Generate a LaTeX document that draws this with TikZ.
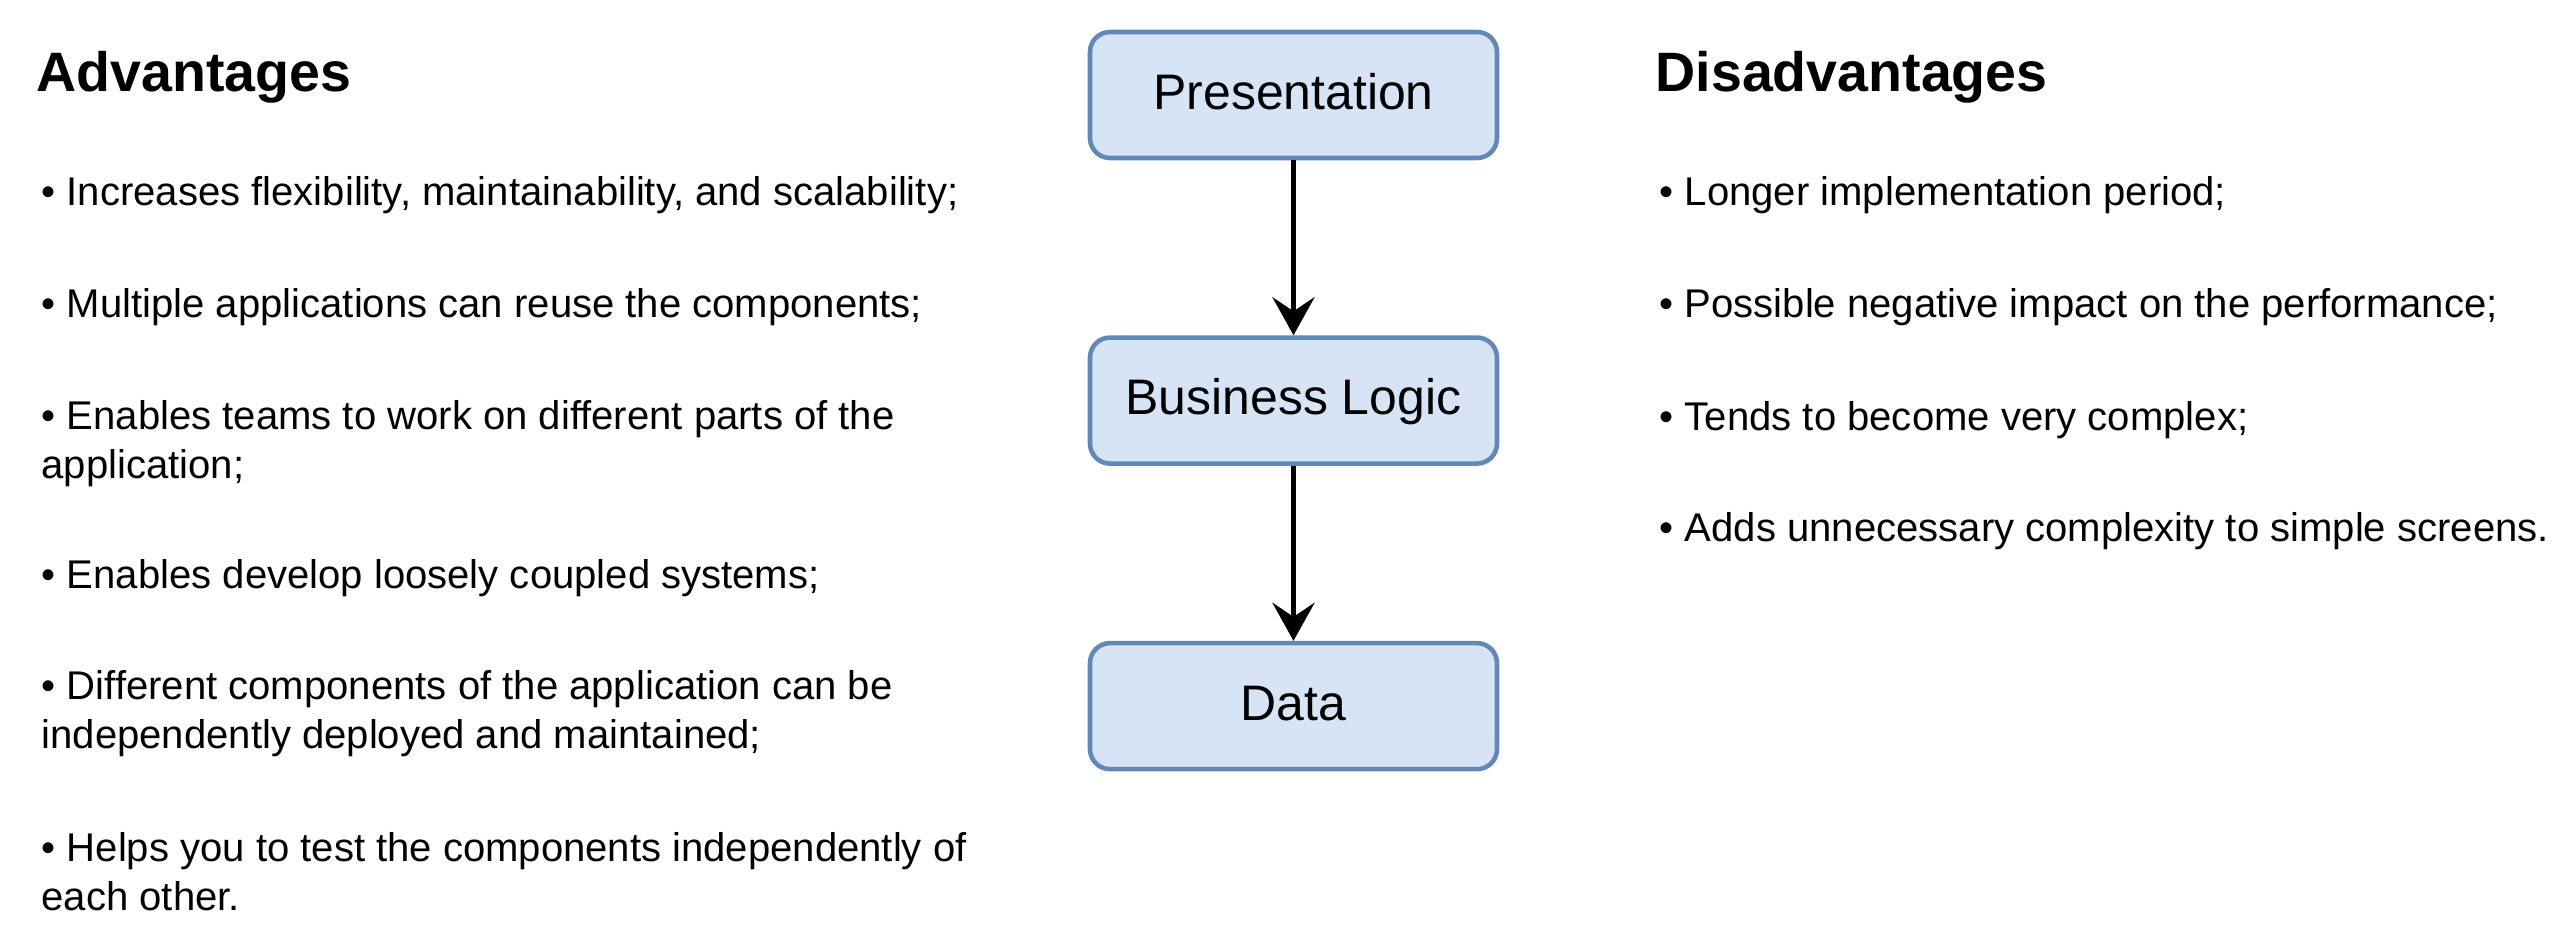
\documentclass[tikz,border=0pt]{standalone}
\usepackage{fontspec}
\setmainfont{Liberation Sans}
\usetikzlibrary{positioning,arrows.meta}
\definecolor{layerfill}{RGB}{214,228,246}
\definecolor{layerdraw}{RGB}{98,136,184}

\begin{document}
\begin{tikzpicture}[
    layer/.style={draw=layerdraw, fill=layerfill, line width=1.3pt, rounded corners=0.2cm,
      minimum width=4.07cm, minimum height=1.26cm, inner sep=0pt,
      font=\fontsize{14.2}{17}\selectfont, text height=0.38cm, text depth=0.10cm},
    head/.style={anchor=base west, inner sep=0pt, font=\fontsize{15.8}{19}\selectfont\bfseries},
    item/.style={anchor=base west, inner sep=0pt, align=left, font=\fontsize{11.4}{13.66}\selectfont},
    flow/.style={-{Stealth[length=3.8mm,width=4.2mm,inset=1.4mm]}, line width=1.7pt}
  ]
  \useasboundingbox (0,0) rectangle (25.56,-9.38);
  % layers
  \node[layer] (pres) at (12.935,-0.95) {Presentation};
  \node[layer, below=1.75cm of pres] (logic) {Business Logic};
  \node[layer, below=1.75cm of logic] (data) {Data};
  \draw[flow] (pres) -- (logic);
  \draw[flow] (logic) -- (data);
  % advantages (two-line items sit on their last baseline)
  \node[head] (adv) at (0.36,-0.91) {Advantages};
  \node[item] (a1) at (0.41,-2.05) {• Increases flexibility, maintainability, and scalability;};
  \node[item] (a2) at (0.41,-3.17) {• Multiple applications can reuse the components;};
  \node[item] (a3) at (0.41,-4.78) {• Enables teams to work on different parts of the\\application;};
  \node[item] (a4) at (0.41,-5.88) {• Enables develop loosely coupled systems;};
  \node[item] (a5) at (0.41,-7.48) {• Different components of the application can be\\independently deployed and maintained;};
  \node[item] (a6) at (0.41,-9.10) {• Helps you to test the components independently of\\each other.};
  % disadvantages
  \node[head] (dis) at (16.55,-0.91) {Disadvantages};
  \node[item] (d1) at (16.59,-2.05) {• Longer implementation period;};
  \node[item] (d2) at (16.59,-3.17) {• Possible negative impact on the performance;};
  \node[item] (d3) at (16.59,-4.30) {• Tends to become very complex;};
  \node[item] (d4) at (16.59,-5.41) {• Adds unnecessary complexity to simple screens.};
\end{tikzpicture}
\end{document}
